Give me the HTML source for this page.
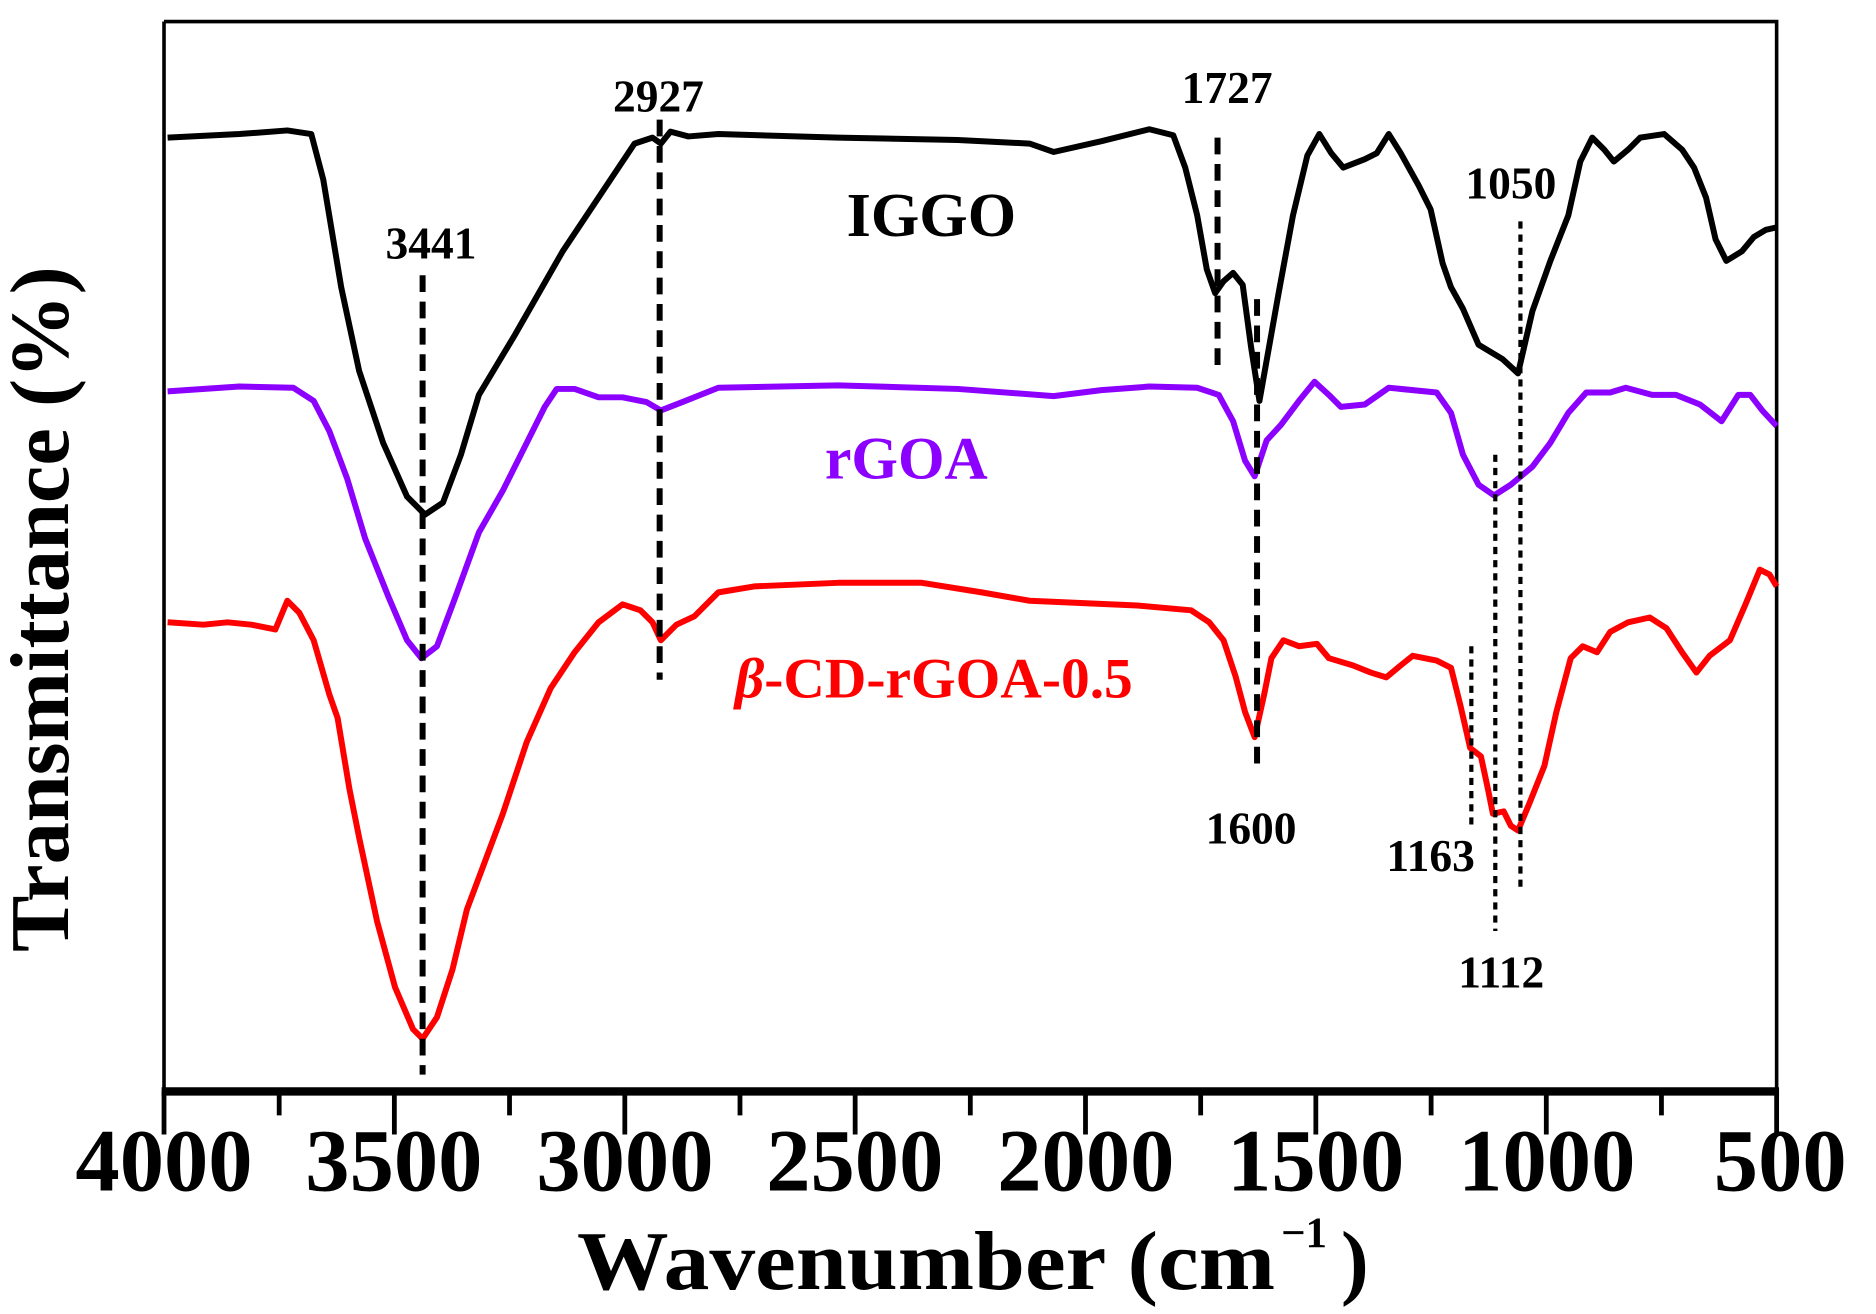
<!DOCTYPE html>
<html><head><meta charset="utf-8"><style>html,body{margin:0;padding:0;background:#fff}svg{display:block}</style></head>
<body>
<svg width="1876" height="1314" viewBox="0 0 1567 1098" preserveAspectRatio="none" xmlns="http://www.w3.org/2000/svg" font-family="Liberation Serif, serif" font-weight="bold">
<g fill="none" stroke="#000" stroke-width="3">
<path d="M137,18 H1484 V912 M137,912 V18"/>
</g>
<line x1="135" y1="912" x2="1486" y2="912" stroke="#000" stroke-width="7"/>
<g stroke="#000" stroke-width="4">
<path d="M137,912V948 M329.4,912V948 M521.9,912V948 M714.3,912V948 M906.7,912V948 M1099.1,912V948 M1291.6,912V948 M1484,912V948"/>
<path d="M233.2,912V932 M425.6,912V932 M618.1,912V932 M810.5,912V932 M1002.9,912V932 M1195.4,912V932 M1387.8,912V932"/>
</g>
<g font-size="74" text-anchor="middle">
<text x="137" y="995" textLength="148" lengthAdjust="spacingAndGlyphs">4000</text><text x="329" y="995" textLength="148" lengthAdjust="spacingAndGlyphs">3500</text><text x="522" y="995" textLength="148" lengthAdjust="spacingAndGlyphs">3000</text><text x="714" y="995" textLength="148" lengthAdjust="spacingAndGlyphs">2500</text><text x="907" y="995" textLength="148" lengthAdjust="spacingAndGlyphs">2000</text><text x="1099" y="995" textLength="148" lengthAdjust="spacingAndGlyphs">1500</text><text x="1292" y="995" textLength="148" lengthAdjust="spacingAndGlyphs">1000</text><text x="1487" y="995" textLength="111" lengthAdjust="spacingAndGlyphs">500</text>
</g>
<text x="482" y="1077" font-size="70" textLength="583" lengthAdjust="spacingAndGlyphs">Wavenumber (cm</text>
<text x="1070" y="1042" font-size="36">−1</text>
<text x="1120" y="1077" font-size="70">)</text>
<text transform="translate(57,509) rotate(-90)" font-size="70" text-anchor="middle" textLength="573" lengthAdjust="spacingAndGlyphs">Transmittance (%)</text>

<g fill="none" stroke-linejoin="round" stroke-width="5">
<path stroke="#000" d="M140,115 L200,112 L240,109 L260,112 L270,150 L285,240 L300,310 L320,370 L340,415 L355,430 L370,420 L385,380 L400,330 L430,280 L470,210 L510,150 L530,120 L545,115 L552,120 L560,110 L575,114 L600,112 L700,115 L800,117 L860,120 L880,127 L920,118 L960,108 L980,113 L990,140 L1000,180 L1008,225 L1015,245 L1022,235 L1030,228 L1038,238 L1045,290 L1052,335 L1060,290 L1068,245 L1080,180 L1092,130 L1102,112 L1112,128 L1122,140 L1140,133 L1150,128 L1160,112 L1170,128 L1185,155 L1195,175 L1205,220 L1212,240 L1222,258 L1235,288 L1255,300 L1268,312 L1280,260 L1295,218 L1310,180 L1320,135 L1330,115 L1340,125 L1348,135 L1360,125 L1370,115 L1390,112 L1405,125 L1415,140 L1425,165 L1433,200 L1442,218 L1455,210 L1465,198 L1475,192 L1484,190"/>
<path stroke="#8b00ff" d="M140,327 L200,323 L245,324 L262,335 L275,360 L290,400 L305,450 L325,500 L340,535 L352,550 L365,540 L380,500 L400,445 L420,410 L440,370 L455,340 L465,325 L480,325 L500,332 L520,332 L540,336 L552,343 L570,336 L600,324 L700,322 L800,325 L880,331 L920,326 L960,323 L1000,324 L1018,330 L1030,352 L1040,385 L1048,398 L1058,368 L1070,355 L1085,335 L1098,319 L1110,330 L1120,340 L1140,338 L1160,324 L1200,328 L1212,345 L1222,380 L1235,405 L1248,414 L1262,405 L1280,390 L1295,370 L1310,345 L1325,328 L1345,328 L1358,324 L1380,330 L1400,330 L1420,338 L1438,352 L1452,330 L1462,330 L1472,343 L1484,356"/>
<path stroke="#f00" d="M140,520 L170,522 L190,520 L210,522 L230,526 L240,502 L250,512 L262,535 L275,580 L282,600 L292,660 L300,700 L315,770 L330,825 L345,860 L353,868 L365,850 L378,810 L390,760 L405,720 L420,680 L440,620 L460,575 L480,545 L500,520 L520,505 L535,510 L545,520 L552,535 L565,522 L580,515 L600,495 L630,490 L700,487 L770,487 L820,495 L860,502 L950,506 L995,510 L1010,520 L1022,535 L1032,565 L1040,595 L1048,616 L1056,580 L1062,550 L1072,535 L1085,540 L1100,538 L1110,550 L1130,556 L1145,562 L1158,566 L1170,556 L1180,548 L1200,552 L1212,558 L1220,590 L1228,625 L1237,632 L1243,660 L1247,680 L1256,678 L1262,690 L1268,694 L1278,670 L1290,640 L1300,595 L1312,550 L1322,540 L1334,545 L1345,528 L1360,520 L1378,516 L1392,525 L1405,545 L1417,562 L1428,548 L1445,535 L1458,505 L1470,476 L1478,480 L1484,490"/>
</g>
<g stroke="#000" fill="none">
<g stroke-width="5" stroke-dasharray="14,8">
<line x1="353" y1="230" x2="353" y2="898"/>
<line x1="551" y1="100" x2="551" y2="568"/>
<line x1="1017" y1="115" x2="1017" y2="305"/>
<line x1="1050" y1="250" x2="1050" y2="642"/>
</g>
<g stroke-width="3.5" stroke-dasharray="6,5">
<line x1="1270" y1="185" x2="1270" y2="742"/>
<line x1="1249" y1="380" x2="1249" y2="778"/>
<line x1="1229" y1="540" x2="1229" y2="692"/>
</g>
</g>
<g font-size="38" text-anchor="middle">
<text x="360" y="216">3441</text>
<text x="550" y="93">2927</text>
<text x="1025" y="86">1727</text>
<text x="1262" y="166">1050</text>
<text x="1045" y="705">1600</text>
<text x="1195" y="728">1163</text>
<text x="1254" y="825">1112</text>
</g>
<text x="778" y="197" font-size="52" text-anchor="middle">IGGO</text>
<text x="757" y="400" font-size="50" text-anchor="middle" fill="#8b00ff">rGOA</text>
<text x="780" y="583" font-size="48" text-anchor="middle" fill="#f00"><tspan font-style="italic">β</tspan>-CD-rGOA-0.5</text>
</svg>
</body></html>
